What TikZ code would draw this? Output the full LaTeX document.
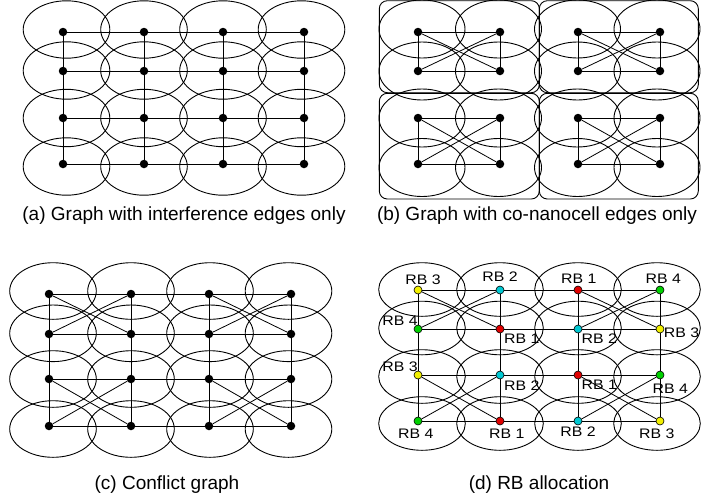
\documentclass[tikz,border=0pt]{standalone}
\usepackage{fontspec}
\setmainfont{Liberation Sans}
\newfontfamily\rbfont[FakeStretch=1.15]{Liberation Sans}
\definecolor{rbY}{HTML}{F2F000}
\definecolor{rbC}{HTML}{00C8D2}
\definecolor{rbR}{HTML}{E00000}
\definecolor{rbG}{HTML}{00D000}
\tikzset{
  cell/.style={line width=0.9pt},
  edge/.style={line width=0.8pt},
  dot/.style={circle,fill=black,inner sep=0pt,minimum size=8.5pt},
  cdot/.style={circle,draw=black,line width=0.6pt,fill=#1,inner sep=0pt,minimum size=8pt},
  rblabel/.style={inner sep=0pt,font=\rbfont\fontsize{13.8}{14}\selectfont},
  caption/.style={inner sep=0pt,font=\fontsize{19}{21}\selectfont},
  grp/.style={line width=0.9pt,rounded corners=8pt}
}
\begin{document}
\begin{tikzpicture}[x={(1pt,0)},y={(0,-1pt)}]
\useasboundingbox (0,0) rectangle (701,499);

% ---------- ellipses ----------
% (a)
\foreach \cx in {66.5,144,223,301.5}
  \foreach \cy in {29.5,70.5,118,166.5}
    \draw[cell] (\cx,\cy) ellipse [x radius=43.3pt, y radius=28.7pt];
% (b)
\foreach \cx in {422,498.5,577.5,657}
  \foreach \cy in {29,71,118,167.5}
    \draw[cell] (\cx,\cy) ellipse [x radius=43pt, y radius=29pt];
\draw[grp] (379.3,0.7) rectangle (539.3,92.7);
\draw[grp] (539.3,0.7) rectangle (698.3,92.7);
\draw[grp] (379.3,93.3) rectangle (539.3,199);
\draw[grp] (539.3,93.3) rectangle (698.3,199);
% (c)
\foreach \cx in {53,131,210,288.5}
  \foreach \cy in {291,333.3,379,429}
    \draw[cell] (\cx,\cy) ellipse [x radius=43.3pt, y radius=28.3pt];
% (d)
\foreach \cx in {422,500,578,657}
  \foreach \cy in {289.5,328,376.5,423.5}
    \draw[cell] (\cx,\cy) ellipse [x radius=43.3pt, y radius=26.8pt];

% ---------- nodes ----------
\foreach \x [count=\c] in {63,144,223,304}
  \foreach \y [count=\r] in {32,71,118,164}
    \node[dot] (a\r\c) at (\x,\y) {};
\foreach \x [count=\c] in {418,500,578,660}
  \foreach \y [count=\r] in {32,71,118,164}
    \node[dot] (b\r\c) at (\x,\y) {};
\foreach \x [count=\c] in {49,131,209,291}
  \foreach \y [count=\r] in {294,334,379,426}
    \node[dot] (c\r\c) at (\x,\y) {};

% (d) coloured nodes
\node[cdot=rbY] (d11) at (418,290) {};
\node[cdot=rbC] (d12) at (500,290) {};
\node[cdot=rbR] (d13) at (578,290) {};
\node[cdot=rbG] (d14) at (660,290) {};
\node[cdot=rbG] (d21) at (418,329) {};
\node[cdot=rbR] (d22) at (500,329) {};
\node[cdot=rbC] (d23) at (578,329) {};
\node[cdot=rbY] (d24) at (660,329) {};
\node[cdot=rbY] (d31) at (418,375) {};
\node[cdot=rbC] (d32) at (500,375) {};
\node[cdot=rbR] (d33) at (578,375) {};
\node[cdot=rbG] (d34) at (660,375) {};
\node[cdot=rbG] (d41) at (418,421) {};
\node[cdot=rbR] (d42) at (500,421) {};
\node[cdot=rbC] (d43) at (578,421) {};
\node[cdot=rbY] (d44) at (660,421) {};

% ---------- edges ----------
% grid edges: (a), (c), (d)
\foreach \p in {a,c,d}{
  \foreach \r in {1,2,3,4}
    \foreach \c/\n in {1/2,2/3,3/4}
      \draw[edge] (\p\r\c) -- (\p\r\n);
  \foreach \c in {1,2,3,4}
    \foreach \r/\n in {1/2,2/3,3/4}
      \draw[edge] (\p\r\c) -- (\p\n\c);
}
% co-nanocell blocks: (b) complete, (c),(d) diagonals
\foreach \r/\s in {1/2,3/4}
  \foreach \c/\e in {1/2,3/4}{
    \draw[edge] (b\r\c) -- (b\r\e);
    \draw[edge] (b\s\c) -- (b\s\e);
    \draw[edge] (b\r\c) -- (b\s\c);
    \draw[edge] (b\r\e) -- (b\s\e);
    \foreach \p in {b,c,d}{
      \draw[edge] (\p\r\c) -- (\p\s\e);
      \draw[edge] (\p\r\e) -- (\p\s\c);
    }
  }

% ---------- RB labels ----------
\node[rblabel] (l11) at (423,279.5) {RB 3};
\node[rblabel] (l12) at (500,277) {RB 2};
\node[rblabel] (l13) at (578.7,278.7) {RB 1};
\node[rblabel] (l14) at (663.3,278.7) {RB 4};
\node[rblabel] (l21) at (400,320.5) {RB 4};
\node[rblabel] (l22) at (521.7,338.7) {RB 1};
\node[rblabel] (l23) at (599.3,338.3) {RB 2};
\node[rblabel] (l24) at (681.5,332.5) {RB 3};
\node[rblabel] (l31) at (400,367) {RB 3};
\node[rblabel] (l32) at (521.7,385.3) {RB 2};
\node[rblabel] (l33) at (599.3,384.3) {RB 1};
\node[rblabel] (l34) at (670.3,388.3) {RB 4};
\node[rblabel] (l41) at (415.7,433.7) {RB 4};
\node[rblabel] (l42) at (506.7,433.7) {RB 1};
\node[rblabel] (l43) at (578,432) {RB 2};
\node[rblabel] (l44) at (656.7,433.7) {RB 3};

% ---------- captions ----------
\node[caption] (capa) at (184,216) {(a) Graph with interference edges only};
\node[caption] (capb) at (537,216) {(b) Graph with co-nanocell edges only};
\node[caption] (capc) at (167,485) {(c) Conflict graph};
\node[caption] (capd) at (539,485) {(d) RB allocation};
\end{tikzpicture}
\end{document}
